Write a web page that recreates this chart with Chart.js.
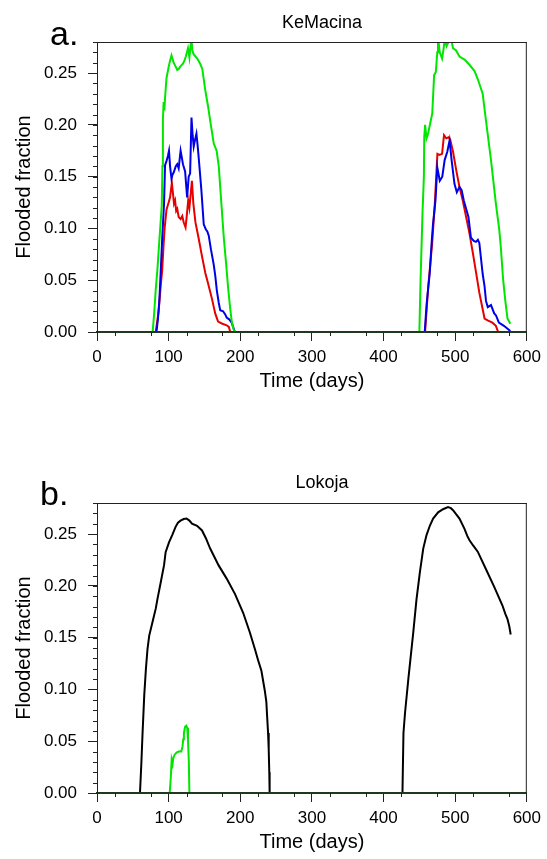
<!DOCTYPE html>
<html>
<head>
<meta charset="utf-8">
<script src="https://cdn.jsdelivr.net/npm/chart.js@4.4.1/dist/chart.umd.min.js"></script>
<style>
  body { margin: 0; width: 547px; height: 859px; overflow: hidden; background: #fff; position: relative;
         font-family: "Liberation Sans", Arial, sans-serif; }
  .panel { position: absolute; left: 0; width: 547px; height: 400px; }
  .txt { position: absolute; white-space: nowrap; color: #000; }
  .letter { font-size: 34px; line-height: 34px; }
  .title { font-size: 18px; line-height: 18px; width: 200px; text-align: center; }
</style>
</head>
<body>
<div class="panel" style="top:0"><canvas id="chartA" width="547" height="400"></canvas></div>
<div class="panel" style="top:461px"><canvas id="chartB" width="547" height="400"></canvas></div>
<div class="txt letter" style="left:50px; top:16px">a.</div>
<div class="txt title" style="left:222px; top:13px">KeMacina</div>
<div class="txt letter" style="left:40px; top:476px">b.</div>
<div class="txt title" style="left:222px; top:473px">Lokoja</div>

<script>
// tick labels
const xTicks = [0, 100, 200, 300, 400, 500, 600];
const yTicks = [0, 0.05, 0.10, 0.15, 0.20, 0.25];
const xTitle = "Time (days)";
const yTitle = "Flooded fraction";

// panel a: KeMacina
const aGreenDays = [0, 77.7, 80, 82, 84.5, 86.7, 88.5, 90.4, 91.3, 92, 93, 94, 95, 97, 100, 102, 104, 107, 110, 112,
  114, 117, 120, 122, 124, 127, 129, 130.5, 132, 133, 135, 140, 144, 147, 151, 155, 158, 163, 167, 170,
  172, 177, 180, 183, 186, 188, 190, 192, 450, 451.7, 454.4, 456.3, 456.8, 458, 460, 462, 465, 468, 470.6, 473,
  475, 476, 478.5, 481.7, 483.5, 485.3, 488, 490, 493.6, 497, 501, 506, 513, 520, 527, 531.6, 538.4, 543, 550, 556.8,
  561.5, 563.7, 567, 570, 573, 577];
const aGreenVals = [0, 0, 0.02, 0.041, 0.062, 0.085, 0.103, 0.122, 0.16, 0.205, 0.222, 0.214, 0.226, 0.245, 0.256, 0.262, 0.267, 0.260, 0.256, 0.253,
  0.254, 0.257, 0.259, 0.262, 0.266, 0.274, 0.265, 0.276, 0.283, 0.272, 0.268, 0.264, 0.259, 0.254, 0.234, 0.218, 0.204, 0.182, 0.175, 0.16,
  0.14, 0.091, 0.068, 0.043, 0.022, 0.011, 0.004, 0, 0, 0.051, 0.115, 0.150, 0.188, 0.200, 0.187, 0.191, 0.201, 0.211, 0.248, 0.251,
  0.270, 0.285, 0.270, 0.264, 0.272, 0.282, 0.276, 0.279, 0.285, 0.274, 0.272, 0.266, 0.263, 0.258, 0.252, 0.244, 0.230, 0.204, 0.166, 0.124,
  0.099, 0.082, 0.05, 0.03, 0.013, 0.008];

const aBlueDays = [0, 83, 85, 87, 89, 91, 93.6, 95, 97, 99, 100.5, 102, 104, 105.5, 107, 110, 112, 114, 116.7, 118,
  120, 123, 125.8, 128, 130, 131.9, 133.5, 135, 137, 138.8, 140.5, 142, 145.7, 149, 152, 154, 156, 159, 162.7, 165,
  167.3, 170, 172, 176, 179, 181, 185, 188, 190, 192.5, 457.5, 460, 464.6, 467, 469, 472.5, 475, 478.5, 482, 485.3,
  489, 492.2, 495, 499, 502.3, 506, 509, 512, 518.5, 522, 526, 529, 531.7, 533.7, 538.4, 541, 543, 545.5, 550, 554.5,
  557, 561, 568, 577];
const aBlueVals = [0, 0, 0.012, 0.03, 0.059, 0.09, 0.124, 0.161, 0.165, 0.17, 0.175, 0.16, 0.148, 0.152, 0.154, 0.16, 0.162, 0.158, 0.175, 0.17,
  0.162, 0.155, 0.13, 0.15, 0.153, 0.207, 0.19, 0.179, 0.186, 0.1915, 0.18, 0.168, 0.137, 0.104, 0.099, 0.097, 0.093, 0.08, 0.066, 0.055,
  0.04, 0.028, 0.021, 0.02, 0.017, 0.014, 0.012, 0.009, 0.005, 0, 0, 0.026, 0.058, 0.085, 0.104, 0.127, 0.159, 0.146, 0.15, 0.166,
  0.174, 0.185, 0.166, 0.143, 0.135, 0.14, 0.137, 0.127, 0.111, 0.091, 0.088, 0.087, 0.089, 0.086, 0.056, 0.044, 0.03, 0.024, 0.026, 0.018,
  0.016, 0.009, 0.006, 0.001];

const aRedDays = [0, 82, 86, 89, 91, 93, 94.5, 97, 100, 102, 104.5, 106, 107.5, 109, 110.5, 112, 114, 116.7, 119, 121,
  123.6, 125, 127.3, 129, 132.5, 134.5, 137.4, 142, 146.6, 151.2, 155, 160.5, 165, 169, 175, 181, 184, 186, 458, 462.3,
  467.8, 471.5, 475.2, 478, 481.7, 484.4, 487.5, 490.6, 493, 497, 501.5, 506, 510.6, 515.3, 520, 524.5, 529, 533.7, 538.4, 541,
  546, 552, 556.8, 560, 577];
const aRedVals = [0, 0, 0.02, 0.045, 0.06, 0.085, 0.101, 0.118, 0.125, 0.13, 0.144, 0.134, 0.124, 0.127, 0.117, 0.119, 0.111, 0.109, 0.112, 0.106,
  0.101, 0.11, 0.127, 0.12, 0.146, 0.124, 0.106, 0.09, 0.073, 0.057, 0.047, 0.032, 0.018, 0.01, 0.008, 0.0065, 0.005, 0, 0, 0.043,
  0.085, 0.123, 0.172, 0.171, 0.172, 0.19, 0.187, 0.188, 0.186, 0.174, 0.156, 0.14, 0.127, 0.111, 0.095, 0.077, 0.058, 0.038, 0.022, 0.013,
  0.011, 0.009, 0.006, 0, 0];

// panel b: Lokoja
const bBlackDays = [0, 60, 62, 63.6, 66, 68.3, 70.5, 72.9, 77.5, 82, 84.3, 89, 93.6, 95.8, 100.5, 105, 109.7, 113, 116.6, 121,
  125, 129, 132.6, 139.7, 146.6, 152, 158, 169.6, 181, 192.7, 204, 213.4, 220.4, 225, 229.5, 234.2, 236.4, 237.4, 238.8, 239.7,
  240.5, 241, 426.4, 427.8, 430, 434.6, 441.5, 446, 450.7, 455.4, 460, 464.6, 469.2, 476.2, 483, 490, 494, 497, 506, 513,
  517, 520, 525, 531.5, 543, 554.5, 566, 570, 573, 575.5, 577.5];
const bBlackVals = [0, 0, 0.03, 0.058, 0.095, 0.12, 0.139, 0.152, 0.165, 0.178, 0.187, 0.2035, 0.22, 0.2325, 0.242, 0.249, 0.257, 0.261, 0.263, 0.2645,
  0.265, 0.263, 0.26, 0.258, 0.2535, 0.246, 0.236, 0.22, 0.207, 0.192, 0.174, 0.155, 0.139, 0.128, 0.118, 0.099, 0.088, 0.075, 0.058, 0.042,
  0.02, 0, 0, 0.058, 0.0775, 0.11, 0.155, 0.187, 0.213, 0.236, 0.249, 0.258, 0.265, 0.271, 0.274, 0.276, 0.275, 0.273, 0.265, 0.255,
  0.248, 0.244, 0.239, 0.233, 0.216, 0.199, 0.181, 0.173, 0.168, 0.161, 0.153];

const bGreenDays = [0, 101.5, 103, 104.2, 105.5, 106.5, 108.4, 111, 114, 117.6, 119.4, 120.4, 121.3, 123, 124.5, 125.9, 127, 128.2, 129, 577];
const bGreenVals = [0, 0, 0.015, 0.032, 0.028, 0.034, 0.037, 0.039, 0.040, 0.040, 0.045, 0.052, 0.058, 0.064, 0.065, 0.063, 0.052, 0.03, 0, 0];

const font = '"Liberation Sans", Arial, sans-serif';

function pts(days, vals) {
  return days.map((d, i) => ({ x: d, y: vals[i] }));
}

function line(days, vals, color) {
  return { data: pts(days, vals), borderColor: color, borderWidth: 2, pointRadius: 0, fill: false, tension: 0 };
}

// box on top/right + short minor ticks
const frameTicks = {
  id: 'frameTicks',
  afterDraw(chart) {
    const { ctx, chartArea: a, scales: { x, y } } = chart;
    ctx.save();
    ctx.strokeStyle = '#222';
    ctx.lineWidth = 1;
    ctx.beginPath();
    for (let k = 0; k <= 28; k++) {
      const py = Math.round(y.getPixelForValue(k / 100)) + 0.5;
      ctx.moveTo(a.left - 4, py);
      ctx.lineTo(a.left, py);
    }
    for (let d = 25; d < 600; d += 50) {
      const px = Math.round(x.getPixelForValue(d)) + 0.5;
      ctx.moveTo(px, a.bottom);
      ctx.lineTo(px, a.bottom + 4);
    }
    ctx.moveTo(a.left, a.top + 0.5);
    ctx.lineTo(a.right, a.top + 0.5);
    ctx.moveTo(a.right - 0.5, a.top);
    ctx.lineTo(a.right - 0.5, a.bottom);
    ctx.stroke();
    ctx.restore();
  }
};

function options() {
  return {
    responsive: false,
    animation: false,
    layout: { padding: { left: 0, right: 16, top: 42, bottom: 0 } },
    plugins: { legend: { display: false }, tooltip: { enabled: false } },
    scales: {
      x: {
        type: 'linear', min: 0, max: 600,
        afterBuildTicks: s => { s.ticks = xTicks.map(v => ({ value: v })); },
        afterFit: s => { s.height = 68; },
        grid: { drawOnChartArea: false, drawTicks: true, tickLength: 9, tickColor: '#222' },
        border: { color: '#1e3a1e', width: 2, z: 1 },
        ticks: { color: '#000', font: { family: font, size: 17 }, padding: 6, maxRotation: 0, autoSkip: false,
                 callback: v => String(v) },
        title: { display: true, text: xTitle, color: '#000', font: { family: font, size: 20 },
                 padding: { top: 0, bottom: 7 } }
      },
      y: {
        type: 'linear', min: 0, max: 0.28,
        afterBuildTicks: s => { s.ticks = yTicks.map(v => ({ value: v })); },
        afterFit: s => { s.width = 97; },
        grid: { drawOnChartArea: false, drawTicks: true, tickLength: 9, tickColor: '#222' },
        border: { color: '#222', width: 1, z: 1 },
        ticks: { color: '#000', font: { family: font, size: 17 }, padding: 11, autoSkip: false,
                 callback: v => v.toFixed(2) },
        title: { display: true, text: yTitle, color: '#000', font: { family: font, size: 20 },
                 padding: { top: 12, bottom: 0 } }
      }
    }
  };
}

new Chart(document.getElementById('chartA'), {
  type: 'line',
  data: {
    datasets: [
      line(aGreenDays, aGreenVals, '#00e600'),
      line(aBlueDays, aBlueVals, '#0000e6'),
      line(aRedDays, aRedVals, '#e60000')
    ]
  },
  options: options(),
  plugins: [frameTicks]
});

new Chart(document.getElementById('chartB'), {
  type: 'line',
  data: {
    datasets: [
      line(bGreenDays, bGreenVals, '#00e600'),
      line(bBlackDays, bBlackVals, '#000000')
    ]
  },
  options: options(),
  plugins: [frameTicks]
});
</script>
</body>
</html>
